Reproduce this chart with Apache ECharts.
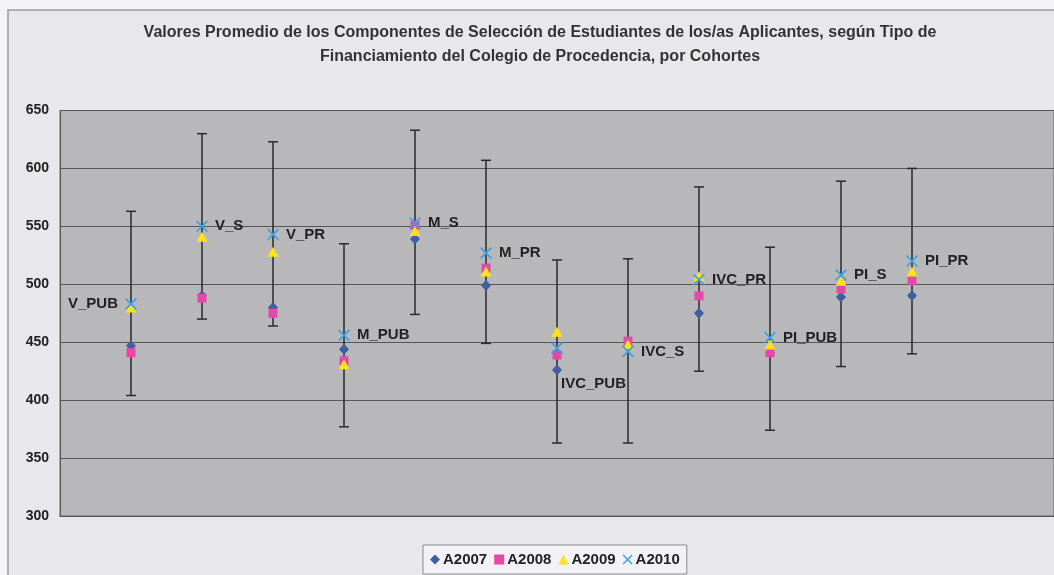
<!DOCTYPE html>
<html>
<head>
<meta charset="utf-8">
<script src="https://cdn.jsdelivr.net/npm/echarts@6/dist/echarts.min.js"></script>
<style>
html,body{margin:0;padding:0;background:#f4f4f8;}
#chart{width:1054px;height:575px;}
</style>
</head>
<body>
<div id="chart"></div>
<script>
var categories = ['V_PUB','V_S','V_PR','M_PUB','M_S','M_PR','IVC_PUB','IVC_S','IVC_PR','PI_PUB','PI_S','PI_PR'];
var A2007 = [447, 490, 480, 444, 539, 499, 426, 446, 475, 441, 489, 490];
var A2008 = [441, 488, 475, 434, 551, 514, 439, 451, 490, 441, 496, 503];
var A2009 = [480, 541, 528, 431, 546, 511, 459, 448, 507, 448, 503, 511];
var A2010 = [483, 550, 543, 456, 553, 527, 445, 442, 504, 454, 508, 520];
var errHigh = [563, 630, 623, 535, 633, 607, 521, 522, 584, 532, 589, 600];
var errLow  = [404, 470, 464, 377, 474, 449, 363, 363, 425, 374, 429, 440];
var yTicks = [300, 350, 400, 450, 500, 550, 600, 650];
var seriesNames = ['A2007','A2008','A2009','A2010'];
var titleText = 'Valores Promedio de los Componentes de Selección de Estudiantes de los/as Aplicantes, según Tipo de\nFinanciamiento del Colegio de Procedencia, por Cohortes';

var FONT = '"Liberation Sans", Arial, sans-serif';
var crossPath = 'path://M0,1 L1,0 L5,4 L9,0 L10,1 L6,5 L10,9 L9,10 L5,6 L1,10 L0,9 L4,5 Z';
var colors = ['#3f5f9f', '#e34aa8', '#ffe21a', '#3aa2e2'];
var symbols = ['diamond', 'rect', 'triangle', crossPath];
var sizes = [[10, 11], [9, 9], [11, 10], [12, 12]];

function pts(arr) { return arr.map(function (v, i) { return [i + 1, v]; }); }

var labelPos = {};
labelPos['V_PUB'] = { position: 'left', distance: 7 };
labelPos['IVC_PUB'] = { position: 'right', distance: 8, offset: [-10, 36] };

var a2010Data = A2010.map(function (v, i) {
  var lp = labelPos[categories[i]] || { position: 'right', distance: 7 };
  return {
    value: [i + 1, v],
    label: Object.assign({ show: true, formatter: categories[i] }, lp)
  };
});

var errData = categories.map(function (c, i) { return [i + 1, errLow[i], errHigh[i]]; });

var chart = echarts.init(document.getElementById('chart'), null, { renderer: 'canvas' });
var markerSeries = [0, 1, 2].map(function (k) {
  var arr = [A2007, A2008, A2009][k];
  return {
    name: seriesNames[k], type: 'scatter', data: pts(arr),
    symbol: symbols[k], symbolSize: sizes[k],
    itemStyle: { color: colors[k], opacity: 1 }, z: 3 + k, silent: true
  };
});
markerSeries.push({
  name: seriesNames[3], type: 'scatter', data: a2010Data,
  symbol: symbols[3], symbolSize: sizes[3],
  itemStyle: { color: colors[3], opacity: 1 }, z: 7, silent: true,
  label: { color: '#222', fontFamily: FONT, fontWeight: 'bold', fontSize: 15 }
});

var option = {
  animation: false,
  backgroundColor: '#f4f4f8',
  graphic: [{
    type: 'rect', z: -10, silent: true,
    shape: { x: 8, y: 10, width: 1100, height: 600 },
    style: { fill: '#e7e7ec', stroke: '#9a9a9e', lineWidth: 1.5 }
  }],
  title: {
    text: titleText, left: 535, top: 16, textAlign: 'center',
    textStyle: { fontFamily: FONT, fontWeight: 'bold', fontSize: 16, color: '#333', lineHeight: 24 }
  },
  legend: {
    data: seriesNames.map(function (n, k) { return { name: n, icon: k === 1 ? 'rect' : symbols[k] }; }),
    left: 423, top: 545, padding: [7, 7], itemGap: 7, itemWidth: 10, itemHeight: 10,
    backgroundColor: '#f2f2f6', borderColor: '#8a8a8a', borderWidth: 1, borderRadius: 0,
    textStyle: { fontFamily: FONT, fontWeight: 'bold', fontSize: 15, color: '#222', padding: [0, 0, 0, -2] }
  },
  grid: {
    left: 60, right: 0, top: 110.5, bottom: 59, show: true,
    backgroundColor: '#b8b8ba', borderColor: '#666', borderWidth: 1
  },
  xAxis: {
    type: 'value', min: 0, max: 14, interval: 1,
    axisLabel: { show: false }, axisTick: { show: false }, splitLine: { show: false },
    axisLine: { show: true, lineStyle: { color: '#555', width: 1 } }
  },
  yAxis: {
    type: 'value', min: yTicks[0], max: yTicks[yTicks.length - 1], interval: 50,
    axisLine: { show: true, lineStyle: { color: '#555', width: 1 } },
    axisTick: { show: false },
    axisLabel: { fontFamily: FONT, fontWeight: 'bold', fontSize: 14, color: '#222', margin: 11 },
    splitLine: { show: true, lineStyle: { color: '#555', width: 1 } }
  },
  series: [{
    type: 'custom', name: 'err', silent: true, z: 2,
    renderItem: function (params, api) {
      var x = api.value(0);
      var lo = api.coord([x, api.value(1)]);
      var hi = api.coord([x, api.value(2)]);
      var cap = 5;
      var st = { stroke: '#2a2a2a', lineWidth: 1.5 };
      return {
        type: 'group', children: [
          { type: 'line', shape: { x1: hi[0], y1: hi[1], x2: lo[0], y2: lo[1] }, style: st },
          { type: 'line', shape: { x1: hi[0] - cap, y1: hi[1], x2: hi[0] + cap, y2: hi[1] }, style: st },
          { type: 'line', shape: { x1: lo[0] - cap, y1: lo[1], x2: lo[0] + cap, y2: lo[1] }, style: st }
        ]
      };
    },
    encode: { x: 0, y: [1, 2] },
    data: errData
  }].concat(markerSeries)
};
chart.setOption(option);
</script>
</body>
</html>
